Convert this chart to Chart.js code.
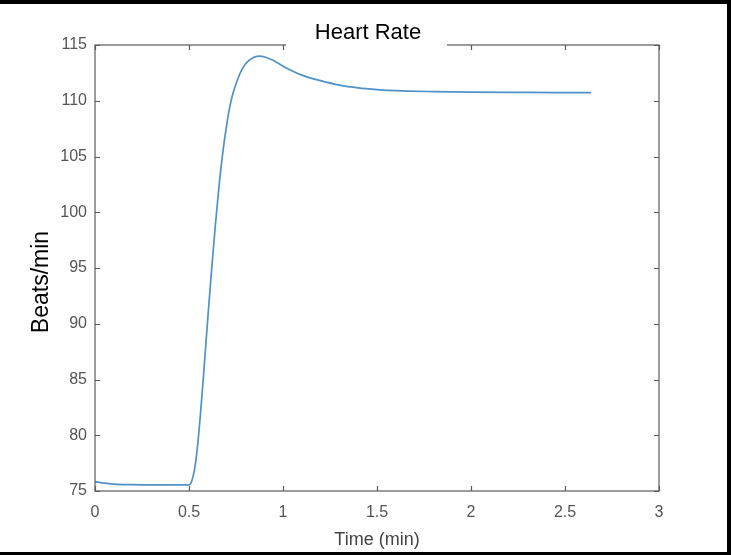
<!DOCTYPE html>
<html>
<head>
<meta charset="utf-8">
<script src="https://cdn.jsdelivr.net/npm/chart.js@4/dist/chart.umd.min.js"></script>
<style>
html,body{margin:0;padding:0;background:#fff;}
#wrap{width:731px;height:555px;position:relative;}
</style>
</head>
<body>
<div id="wrap"><canvas id="c" width="731" height="555"></canvas></div>
<script>
// ---- data ----
const chartTitle = 'Heart Rate';
const xAxisLabel = 'Time (min)';
const yAxisLabel = 'Beats/min';
const times = [0, 0.05, 0.1, 0.2, 0.3, 0.4, 0.5, 0.51, 0.52, 0.53, 0.54, 0.55, 0.56, 0.57, 0.58, 0.6, 0.62, 0.64, 0.66, 0.68, 0.7, 0.72, 0.74, 0.77, 0.8, 0.84, 0.87, 0.9, 0.95, 1.0, 1.1, 1.2, 1.3, 1.4, 1.5, 1.6, 1.8, 2.0, 2.3, 2.64];
const bpm   = [75.85, 75.7, 75.62, 75.57, 75.55, 75.55, 75.55, 75.7, 76.2, 77.0, 78.2, 79.8, 81.7, 83.8, 86.0, 90.5, 94.8, 98.8, 102.4, 105.4, 107.8, 109.7, 111.0, 112.4, 113.3, 113.85, 114.0, 113.95, 113.6, 113.1, 112.3, 111.8, 111.4, 111.15, 111.0, 110.9, 110.82, 110.78, 110.75, 110.72];
const xTickLabels = ['0', '0.5', '1', '1.5', '2', '2.5', '3'];
const yTickLabels = ['75', '80', '85', '90', '95', '100', '105', '110', '115'];

const points = times.map((t, i) => ({x: t, y: bpm[i]}));
const xTickValues = xTickLabels.map(Number);
const yTickValues = yTickLabels.map(Number);

const AXIS_COLOR = '#5a5a5a';
const FONT_FAMILY = 'Arial, "Liberation Sans", sans-serif';
const TICK_FONT = {family: FONT_FAMILY, size: 16};

const framePlugin = {
  id: 'frame',
  afterDraw(chart) {
    const ctx = chart.ctx;
    const {left, right, top, bottom} = chart.chartArea;
    const xs = chart.scales.x, ys = chart.scales.y;
    ctx.save();
    ctx.strokeStyle = AXIS_COLOR;
    ctx.lineWidth = 1.2;
    ctx.strokeRect(left, top, right - left, bottom - top);
    const tl = 5;
    ctx.beginPath();
    xs.ticks.forEach((t, i) => {
      const px = Math.round(xs.getPixelForTick(i)) + 0.5;
      ctx.moveTo(px, bottom); ctx.lineTo(px, bottom - tl);
      ctx.moveTo(px, top); ctx.lineTo(px, top + tl);
    });
    ys.ticks.forEach((t, i) => {
      const py = Math.round(ys.getPixelForTick(i)) + 0.5;
      ctx.moveTo(left, py); ctx.lineTo(left + tl, py);
      ctx.moveTo(right, py); ctx.lineTo(right - tl, py);
    });
    ctx.stroke();
    // title on a white box that hides part of the top axis line
    ctx.fillStyle = '#fff';
    ctx.fillRect(286, 18, 161, 34);
    ctx.fillStyle = '#000';
    ctx.font = '22px ' + FONT_FAMILY;
    ctx.textAlign = 'center';
    ctx.textBaseline = 'middle';
    ctx.fillText(chartTitle, 368, 33);
    // y axis label
    ctx.save();
    ctx.translate(42, 282);
    ctx.rotate(-Math.PI / 2);
    ctx.font = '23px ' + FONT_FAMILY;
    ctx.fillText(yAxisLabel, 0, 0);
    ctx.restore();
    // black outer frame (top, right, bottom)
    ctx.fillStyle = '#000';
    ctx.fillRect(0, 0, 731, 4);
    ctx.fillRect(727, 0, 4, 555);
    ctx.fillRect(0, 552, 731, 3);
    ctx.restore();
  }
};

new Chart(document.getElementById('c'), {
  type: 'line',
  data: {
    datasets: [{
      data: points,
      borderColor: '#5091c8',
      borderWidth: 1.7,
      pointRadius: 0,
      fill: false,
      cubicInterpolationMode: 'monotone'
    }]
  },
  options: {
    responsive: false,
    animation: false,
    devicePixelRatio: 1,
    layout: {padding: {left: 0, top: 45, right: 72, bottom: 0}},
    plugins: {legend: {display: false}, tooltip: {enabled: false}, title: {display: false}},
    scales: {
      x: {
        type: 'linear',
        min: 0, max: 3,
        afterBuildTicks(scale) { scale.ticks = xTickValues.map(v => ({value: v})); },
        afterFit(scale) { scale.height = 64; },
        grid: {display: false, drawTicks: false},
        border: {display: false},
        ticks: {
          color: '#555',
          font: TICK_FONT,
          padding: 12,
          maxRotation: 0,
          callback: (v) => xTickLabels[xTickValues.indexOf(v)] ?? ''
        },
        title: {
          display: true,
          text: xAxisLabel,
          color: '#444',
          font: {family: FONT_FAMILY, size: 18},
          padding: {top: 0, bottom: 4}
        }
      },
      y: {
        type: 'linear',
        min: 75, max: 115,
        afterBuildTicks(scale) { scale.ticks = yTickValues.map(v => ({value: v})); },
        afterFit(scale) { scale.width = 95; },
        grid: {display: false, drawTicks: false},
        border: {display: false},
        ticks: {
          color: '#555',
          font: TICK_FONT,
          padding: 8,
          callback: (v) => yTickLabels[yTickValues.indexOf(v)] ?? ''
        }
      }
    }
  },
  plugins: [framePlugin]
});
</script>
</body>
</html>
